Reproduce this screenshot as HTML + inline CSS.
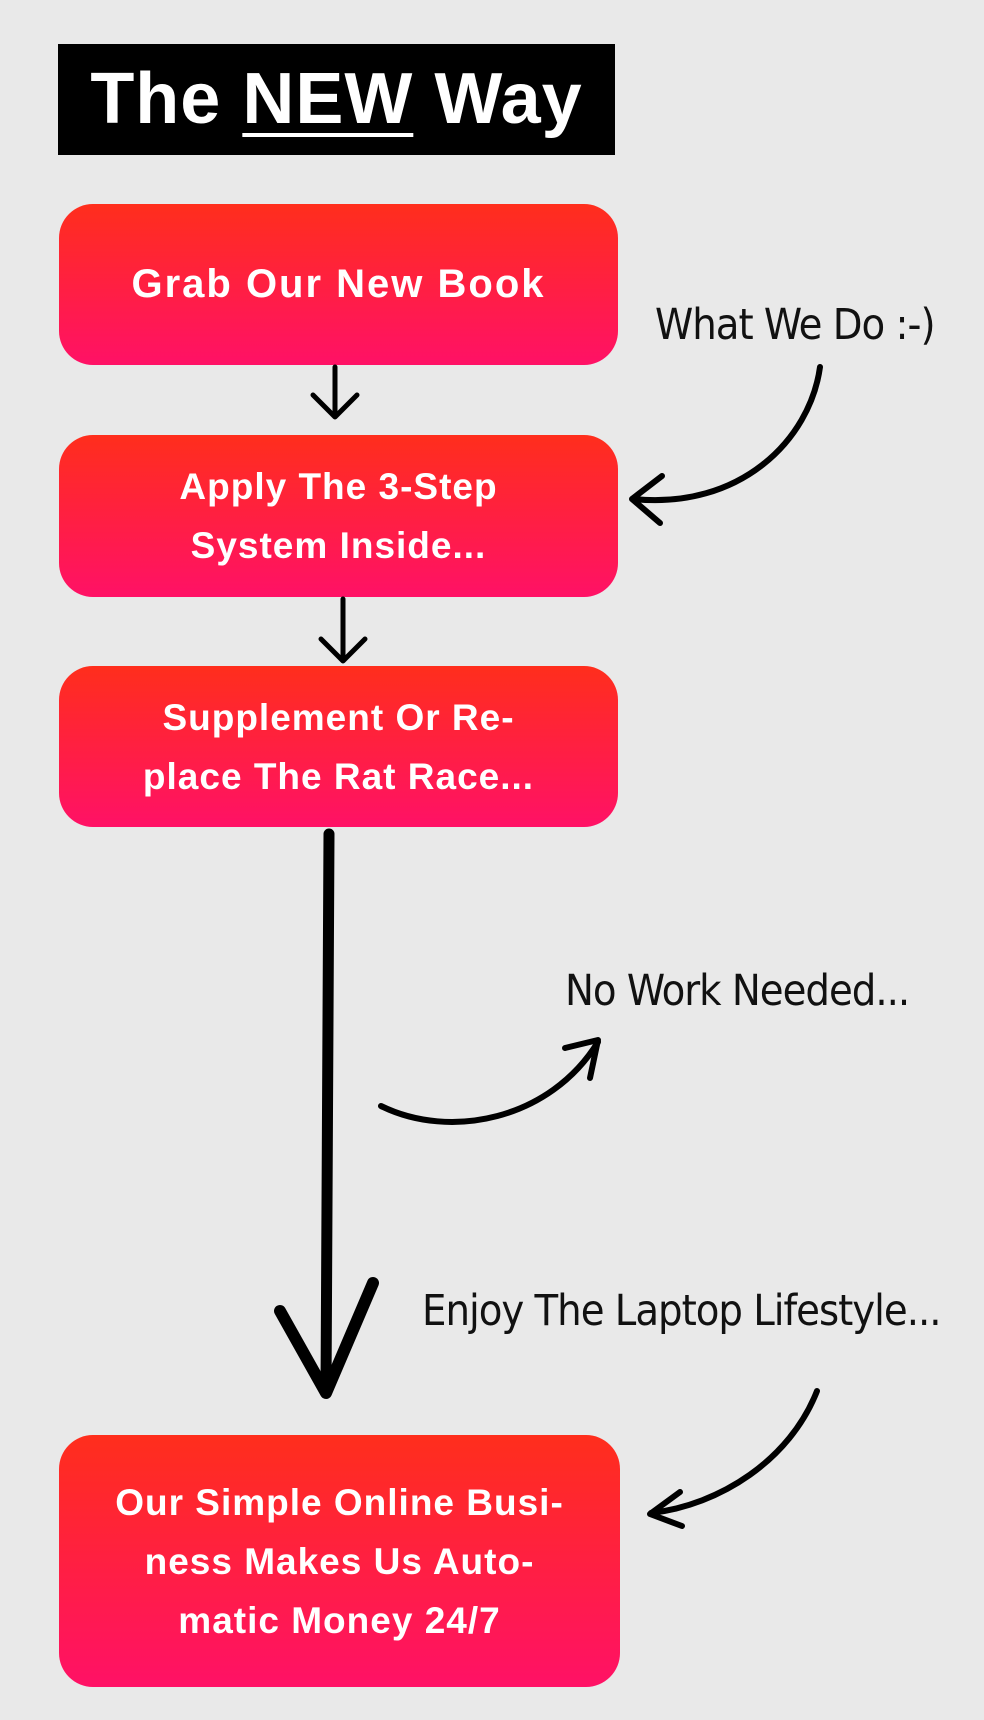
<!DOCTYPE html>
<html><head><meta charset="utf-8"><style>
html,body{margin:0;padding:0;background:#e9e9e9;}
body{width:984px;height:1720px;overflow:hidden;position:relative;font-family:"Liberation Sans",sans-serif;}
.title{position:absolute;left:58px;top:44px;width:557px;height:111px;background:#000;color:#fff;font-weight:bold;font-size:72px;line-height:111px;text-align:center;letter-spacing:1px;}
.title u{text-decoration-thickness:4px;text-underline-offset:10px;}
.box{position:absolute;left:59px;width:559px;border-radius:34px;background:linear-gradient(#ff2e1c,#ff1166);color:#fff;font-size:37px;font-weight:bold;text-align:center;display:flex;align-items:center;justify-content:center;line-height:59px;letter-spacing:1px;}
.hand{position:absolute;font-family:"DejaVu Sans Condensed","DejaVu Sans",cursive;font-size:43px;color:#111;white-space:nowrap;letter-spacing:-1px;}
svg{position:absolute;left:0;top:0;}
</style></head><body>
<div class="title">The <u>NEW</u> Way</div>
<div class="box" style="top:204px;height:161px;font-size:40px;letter-spacing:2px">Grab Our New Book</div>
<div class="box" style="top:435px;height:162px">Apply The 3-Step<br>System Inside...</div>
<div class="box" style="top:666px;height:161px">Supplement Or Re-<br>place The Rat Race...</div>
<div class="box" style="top:1435px;height:252px;width:561px">Our Simple Online Busi-<br>ness Makes Us Auto-<br>matic Money 24/7</div>
<div class="hand" style="left:655px;top:300px">What We Do :-)</div>
<div class="hand" style="left:565px;top:966px">No Work Needed...</div>
<div class="hand" style="left:422px;top:1286px">Enjoy The Laptop Lifestyle...</div>
<svg width="984" height="1720" fill="none" stroke="#000" stroke-linecap="round" stroke-linejoin="round">
<g stroke-width="5">
<path d="M335 367 L335 415"/><path d="M313 395 L335 417 L357 395"/>
<path d="M343 599 L343 659"/><path d="M321 639 L343 661 L365 639"/>
</g>
<path d="M329 834 L326 1390" stroke-width="11"/>
<path d="M280 1311 L326 1393 L373 1283" stroke-width="12"/>
<g stroke-width="6">
<path d="M820 367 C810 440 740 510 633 499"/>
<path d="M662 476 L632 499 L660 523"/>
<path d="M381 1106 C450 1140 550 1120 598 1042"/>
<path d="M565 1048 L598 1040 L590 1078"/>
<path d="M817 1391 C790 1460 720 1505 651 1513"/>
<path d="M680 1492 L650 1514 L682 1526"/>
</g>
</svg>
</body></html>
